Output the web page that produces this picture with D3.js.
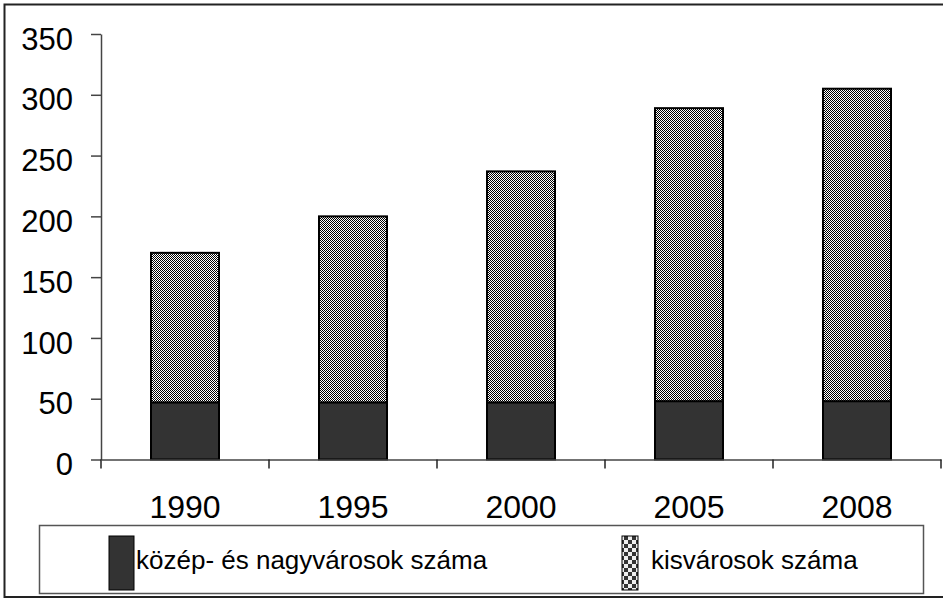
<!DOCTYPE html>
<meta charset="utf-8">
<style>
body { margin: 0; background: white; }
text { font-family: "Liberation Sans", Arial, sans-serif; fill: black; }
</style>
<body>
<script src="https://d3js.org/d3.v7.min.js"></script>
<script>
var years = ['1990', '1995', '2000', '2005', '2008']
var largeTowns = [47, 47, 47, 48, 48]
var smallTowns = [123, 153, 190, 241, 257]
var yTicks = [0, 50, 100, 150, 200, 250, 300, 350]
var seriesNames = ['közép- és nagyvárosok száma', 'kisvárosok száma']

var width = 943
var height = 599

var svg = d3.select('body').append('svg')
    .attr('width', width)
    .attr('height', height)

var defs = svg.append('defs')
var pat = defs.append('pattern')
    .attr('id', 'checker')
    .attr('width', 2).attr('height', 2)
    .attr('patternUnits', 'userSpaceOnUse')
pat.append('rect').attr('width', 2).attr('height', 2).attr('fill', 'white')
pat.append('rect').attr('width', 1).attr('height', 1).attr('fill', 'black')
pat.append('rect').attr('x', 1).attr('y', 1).attr('width', 1).attr('height', 1).attr('fill', 'black')

var patBig = defs.append('pattern')
    .attr('id', 'checkerBig')
    .attr('width', 8).attr('height', 8)
    .attr('patternUnits', 'userSpaceOnUse')
patBig.append('rect').attr('width', 8).attr('height', 8).attr('fill', '#eee')
patBig.append('rect').attr('width', 4).attr('height', 4).attr('fill', '#333')
patBig.append('rect').attr('x', 4).attr('y', 4).attr('width', 4).attr('height', 4).attr('fill', '#333')

// outer frame
svg.append('rect')
    .attr('x', 4.5).attr('y', 4.5)
    .attr('width', 960).attr('height', 592.5)
    .attr('fill', 'none')
    .attr('stroke', '#222')
    .attr('stroke-width', 2)

var x = d3.scaleBand().domain(years).range([101, 941]).paddingInner(0).paddingOuter(0)
var y = d3.scaleLinear().domain([0, 350]).range([459.5, 34])

var barW = 68

var stacked = years.map(function (yr, i) {
    return { year: yr, large: largeTowns[i], small: smallTowns[i] }
})

// bars
var g = svg.append('g')
g.selectAll('.large').data(stacked).enter().append('rect')
    .attr('x', function (d) { return x(d.year) + (x.bandwidth() - barW) / 2 })
    .attr('y', function (d) { return y(d.large) })
    .attr('width', barW)
    .attr('height', function (d) { return y(0) - y(d.large) })
    .attr('fill', '#333')
    .attr('stroke', 'black')
    .attr('stroke-width', 2)

g.selectAll('.small').data(stacked).enter().append('rect')
    .attr('x', function (d) { return x(d.year) + (x.bandwidth() - barW) / 2 })
    .attr('y', function (d) { return y(d.large + d.small) })
    .attr('width', barW)
    .attr('height', function (d) { return y(d.large) - y(d.large + d.small) })
    .attr('fill', 'url(#checker)')
    .attr('stroke', 'black')
    .attr('stroke-width', 2)

// y axis
var yAxis = svg.append('g')
    .attr('transform', 'translate(101,0)')
    .call(d3.axisLeft(y).tickValues(yTicks).tickSize(10).tickPadding(18).tickSizeOuter(0))
yAxis.select('.domain').attr('stroke', '#444').attr('stroke-width', 1.5)
yAxis.selectAll('.tick line').attr('stroke', '#444').attr('stroke-width', 1.5)
yAxis.selectAll('.tick text')
    .attr('dy', '0.68em')
    .attr('y', -6)
    .style('font-family', '"Liberation Sans", Arial, sans-serif')
    .style('font-size', '31px')
    .attr('fill', 'black')

// x axis
var xAxis = svg.append('g')
    .attr('transform', 'translate(0,' + y(0) + ')')
    .call(d3.axisBottom(x).tickSize(0).tickPadding(36).tickSizeOuter(0))
xAxis.select('.domain').attr('stroke', '#444').attr('stroke-width', 1.5)
xAxis.selectAll('.tick text')
    .style('font-family', '"Liberation Sans", Arial, sans-serif')
    .style('font-size', '32px')
    .attr('fill', 'black')

// category boundary ticks
var bounds = years.map(function (yr) { return x(yr) }).concat([x(years[years.length - 1]) + x.bandwidth()])
svg.append('g').selectAll('line').data(bounds).enter().append('line')
    .attr('x1', function (d) { return d }).attr('x2', function (d) { return d })
    .attr('y1', y(0)).attr('y2', y(0) + 9)
    .attr('stroke', '#222')
    .attr('stroke-width', 1.5)

// legend
var legend = svg.append('g')
legend.append('rect')
    .attr('x', 39.5).attr('y', 525.5)
    .attr('width', 884).attr('height', 68)
    .attr('fill', 'white')
    .attr('stroke', '#555')
    .attr('stroke-width', 1.5)

var legX = [109, 622]
var legFill = ['#333', 'url(#checkerBig)']
seriesNames.forEach(function (name, i) {
    legend.append('rect')
        .attr('x', legX[i]).attr('y', 536)
        .attr('width', i === 0 ? 25 : 16).attr('height', 54)
        .attr('fill', legFill[i])
        .attr('stroke', 'black')
        .attr('stroke-width', 1)
    legend.append('text')
        .attr('x', legX[i] + (i === 0 ? 27 : 29))
        .attr('y', 569)
        .style('font-size', '26px')
        .text(name)
})
</script>
</body>
